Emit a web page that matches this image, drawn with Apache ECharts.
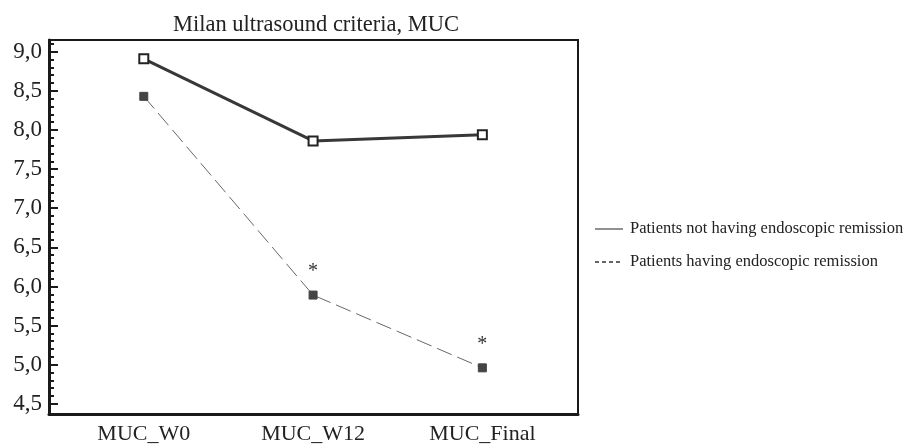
<!DOCTYPE html>
<html>
<head>
<meta charset="utf-8">
<script src="https://cdn.jsdelivr.net/npm/echarts@6/dist/echarts.min.js"></script>
<style>html,body{margin:0;padding:0;background:#fff}#c{width:914px;height:445px}</style>
</head>
<body>
<div id="c"></div>
<script>
var categories = ['MUC_W0', 'MUC_W12', 'MUC_Final'];
var notRemission = [8.91, 7.86, 7.94];
var remission = [8.43, 5.89, 4.96];
var significant = [false, true, true];
var yMajorTicks = [4.5, 5.0, 5.5, 6.0, 6.5, 7.0, 7.5, 8.0, 8.5, 9.0];
var yMinorTicks = [4.6,4.7,4.8,4.9,5.1,5.2,5.3,5.4,5.6,5.7,5.8,5.9,6.1,6.2,6.3,6.4,6.6,6.7,6.8,6.9,7.1,7.2,7.3,7.4,7.6,7.7,7.8,7.9,8.1,8.2,8.3,8.4,8.6,8.7,8.8,8.9,9.1];
var legendNames = ['Patients not having endoscopic remission', 'Patients having endoscopic remission'];
var titleText = 'Milan ultrasound criteria, MUC';

var FONT = 'Liberation Serif';
var chart = echarts.init(document.getElementById('c'), null, {renderer: 'canvas'});
var YMIN = 4.37, YMAX = 9.15;

chart.setOption({
  animation: false,
  title: {
    text: titleText, left: 311, top: 9, textAlign: 'center',
    textStyle: {fontFamily: FONT, fontSize: 22.5, fontWeight: 'normal', color: '#222'}
  },
  grid: {left: 49, right: 336, top: 40, bottom: 31, show: true, borderColor: '#1a1a1a', borderWidth: 2, backgroundColor: 'transparent'},
  xAxis: {
    type: 'value', min: -0.56, max: 2.565,
    axisLine: {show: true, onZero: false, lineStyle: {color: '#1a1a1a', width: 3}},
    axisTick: {show: false},
    splitLine: {show: false},
    axisLabel: {
      customValues: [0, 1, 2],
      formatter: function (v) { return categories[Math.round(v)]; },
      fontFamily: FONT, fontSize: 22, color: '#222', margin: 9
    }
  },
  yAxis: [{
    type: 'value', min: YMIN, max: YMAX,
    axisLine: {show: true, onZero: false, lineStyle: {color: '#1a1a1a', width: 3}},
    axisTick: {show: true, inside: true, length: 9, customValues: yMajorTicks, lineStyle: {color: '#1a1a1a', width: 2}},
    splitLine: {show: false},
    axisLabel: {
      customValues: yMajorTicks,
      formatter: function (v) { return v.toFixed(1).replace('.', ','); },
      fontFamily: FONT, fontSize: 23, color: '#222', margin: 7
    }
  }, {
    type: 'value', min: YMIN, max: YMAX, position: 'left',
    axisLine: {show: false, onZero: false},
    axisTick: {show: true, inside: true, length: 5, customValues: yMinorTicks, lineStyle: {color: '#1a1a1a', width: 2}},
    splitLine: {show: false},
    axisLabel: {show: false}
  }],
  series: [{
    name: legendNames[0], type: 'line',
    data: notRemission.map(function (v, i) { return [i, v]; }),
    symbol: 'rect', symbolSize: 9,
    itemStyle: {color: '#fff', borderColor: '#222', borderWidth: 2},
    lineStyle: {color: '#383838', width: 3},
    z: 3
  }, {
    name: legendNames[1], type: 'line',
    data: remission.map(function (v, i) {
      return {
        value: [i, v],
        label: {show: significant[i], formatter: '*', position: 'top', distance: 9,
                fontFamily: FONT, fontSize: 20, color: '#333'}
      };
    }),
    symbol: 'rect', symbolSize: 8,
    itemStyle: {color: '#444', borderColor: '#444', borderWidth: 1},
    lineStyle: {color: '#666', width: 1, type: [16, 6]},
    z: 2
  }],
  graphic: [
    {type: 'line', shape: {x1: 595, y1: 229, x2: 623, y2: 229}, style: {stroke: '#555', lineWidth: 1.3}},
    {type: 'text', x: 630, y: 229, style: {text: legendNames[0], font: '16.5px "Liberation Serif"', fill: '#222', verticalAlign: 'middle'}},
    {type: 'line', shape: {x1: 595, y1: 262, x2: 621, y2: 262}, style: {stroke: '#333', lineWidth: 1.5, lineDash: [4, 3]}},
    {type: 'text', x: 630, y: 262, style: {text: legendNames[1], font: '16.5px "Liberation Serif"', fill: '#222', verticalAlign: 'middle'}}
  ]
});
</script>
</body>
</html>
